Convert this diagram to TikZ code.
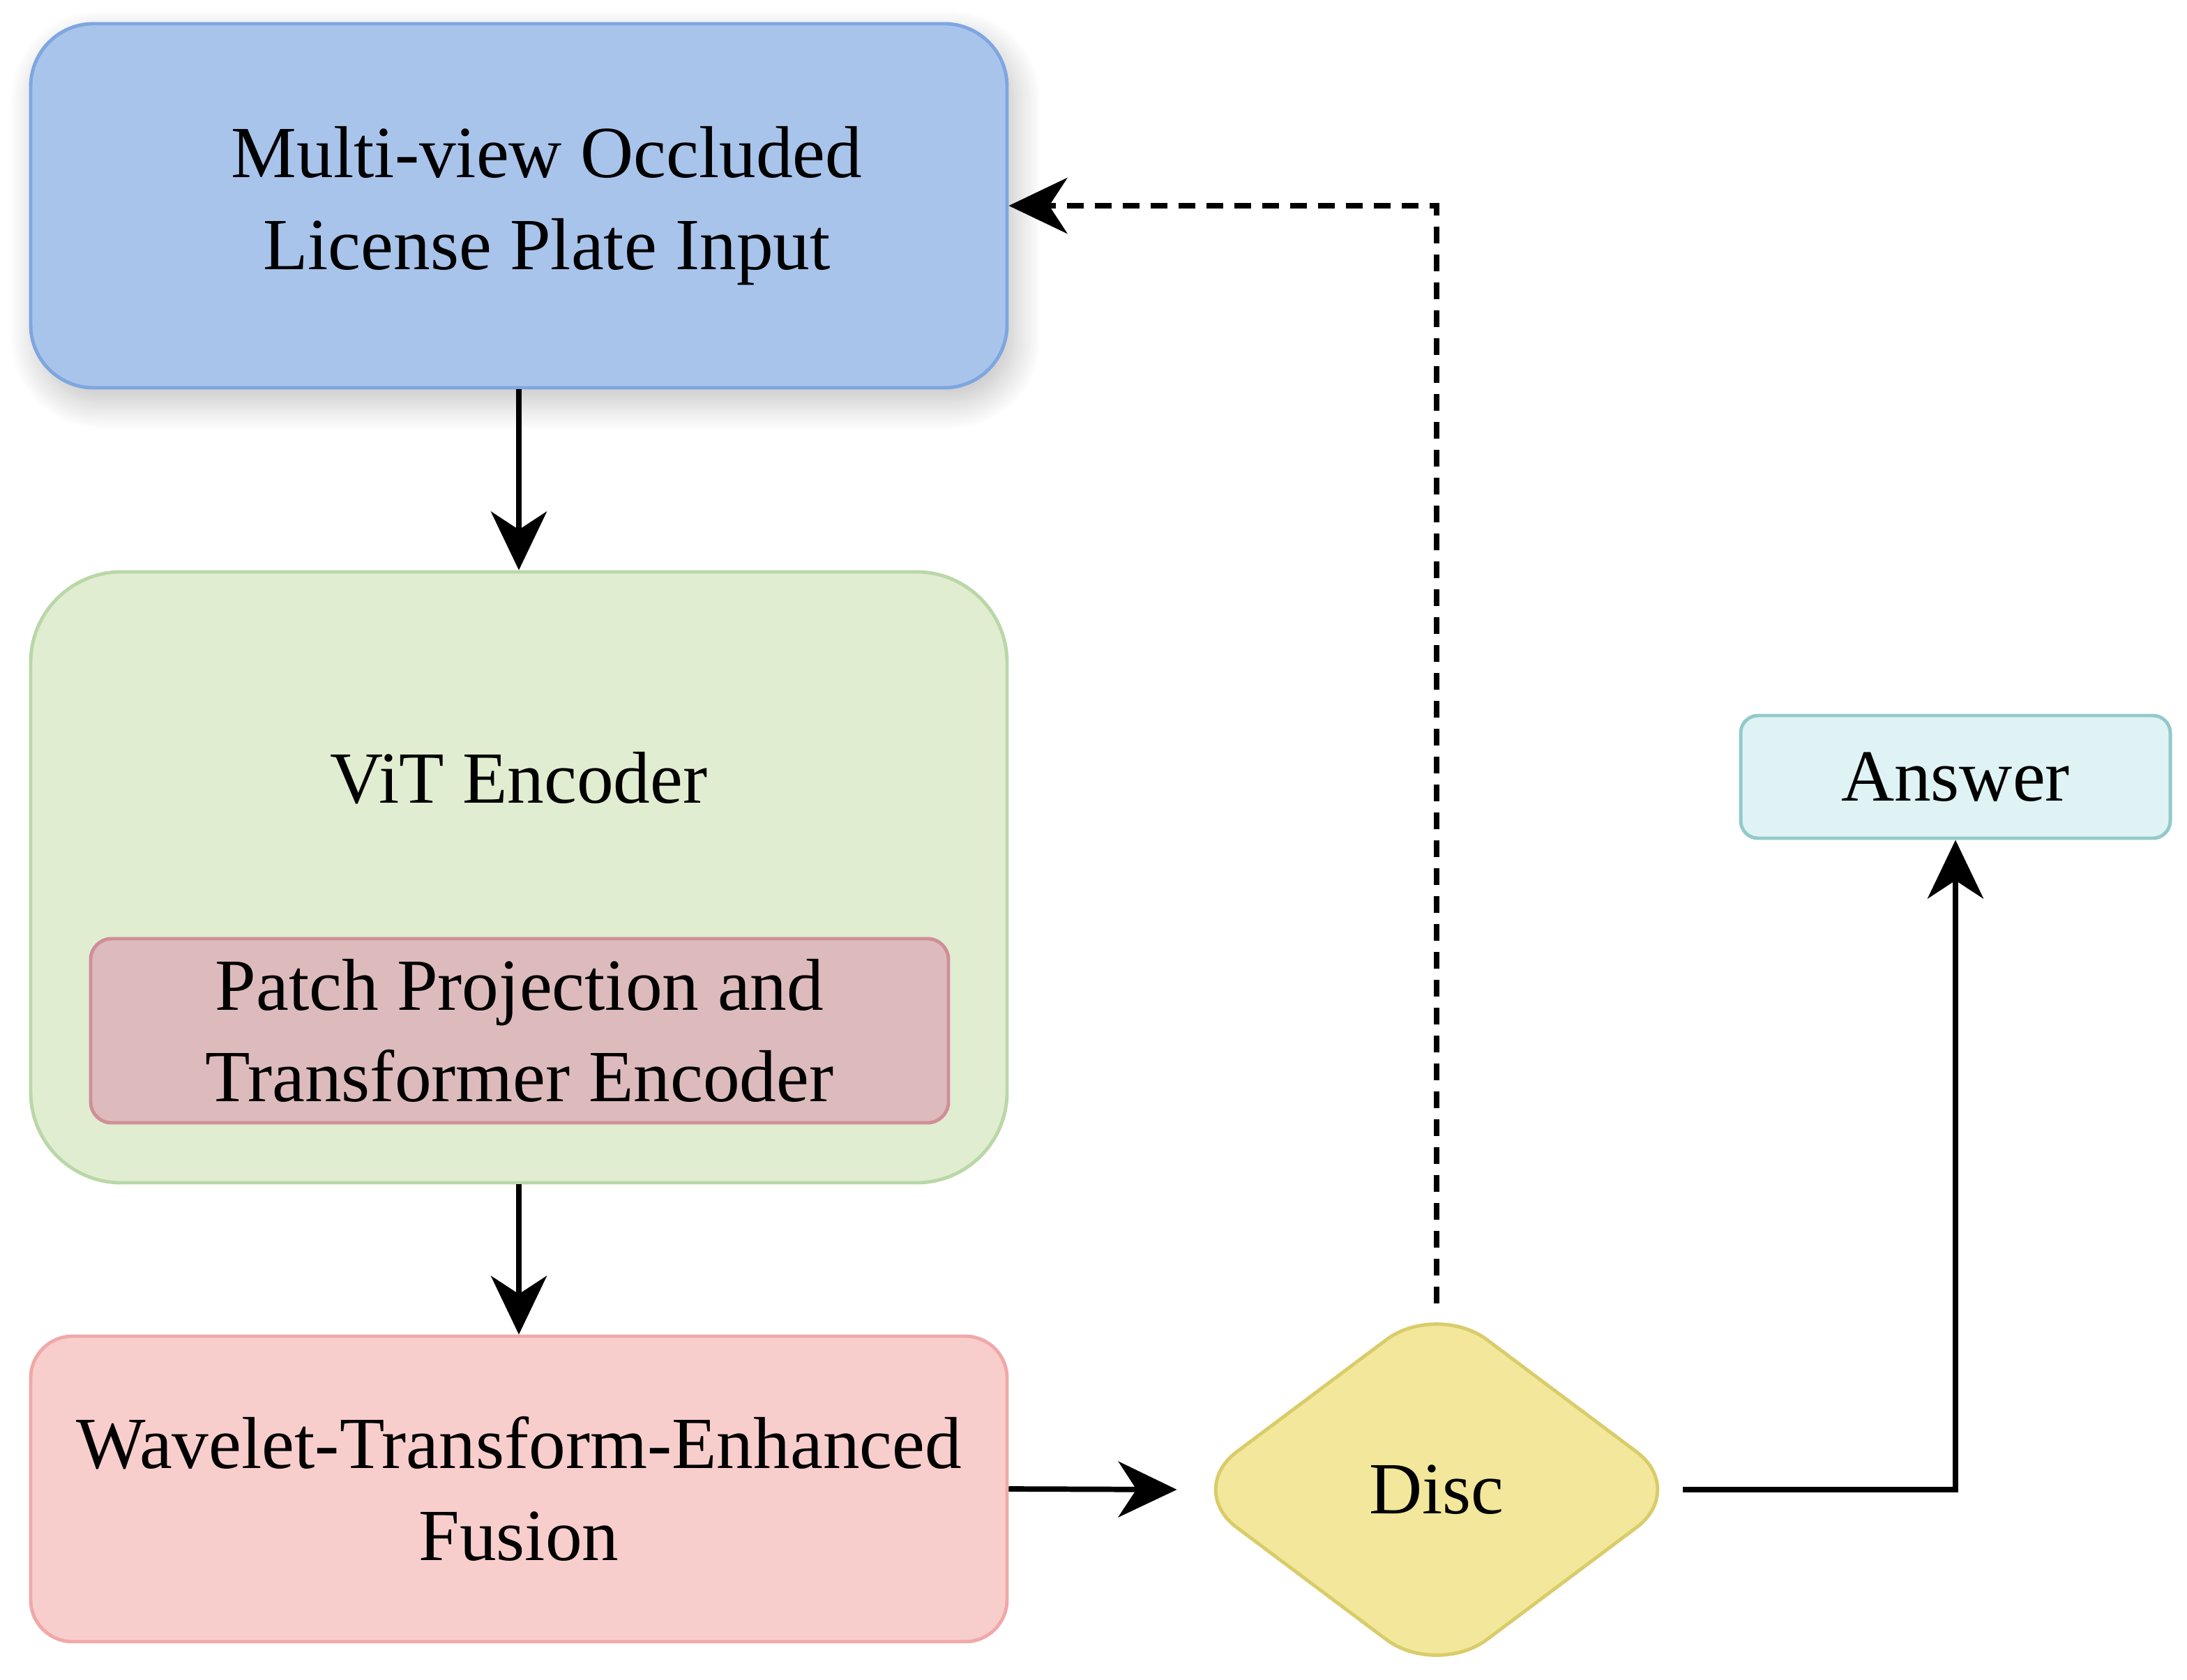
\documentclass[tikz,border=0pt]{standalone}
\usepackage{fontspec}
\setmainfont{Liberation Serif}
\usepackage{xcolor}
\usetikzlibrary{arrows.meta,positioning,shapes.geometric,shadows.blur}

\definecolor{inblue}{HTML}{A9C4EB}
\definecolor{inblueline}{HTML}{7EA6E0}
\definecolor{encgreen}{HTML}{E1EDD0}
\definecolor{encgreenline}{HTML}{B9D7A8}
\definecolor{patchred}{HTML}{DDBBBD}
\definecolor{patchredline}{HTML}{D08E98}
\definecolor{fusered}{HTML}{F8CECC}
\definecolor{fuseredline}{HTML}{F0A8A8}
\definecolor{discyellow}{HTML}{F2E79A}
\definecolor{discyellowline}{HTML}{D9CC6A}
\definecolor{anscyan}{HTML}{DFF3F4}
\definecolor{anscyanline}{HTML}{93C9CB}

\begin{document}
\begin{tikzpicture}[
  font=\fontsize{30pt}{37.5pt}\selectfont,
  block/.style={
    line width=1.4pt,
    align=center,
    inner sep=0pt
  },
  arr/.style={-{Stealth[length=8.4mm, width=8mm, inset=2.6mm]}, line width=2.2pt, draw=black},
  feed/.style={arr, dash pattern=on 2.4mm off 1.6mm}
]
\useasboundingbox (0,0) rectangle (31.36,-24.08);

\node[block, fill=inblue, draw=inblueline, rounded corners=9mm,
  minimum width=14cm, minimum height=5.22cm,
  blur shadow={shadow xshift=1mm, shadow yshift=-2mm, shadow blur radius=4mm,
    shadow blur steps=20, shadow opacity=25}] (input) at (7.44,-2.95) {};
\node[align=center] (inputlabel) at (7.84,-2.95) {Multi-view Occluded\\License Plate Input};

\node[block, fill=encgreen, draw=encgreenline, rounded corners=13mm,
  minimum width=14cm, minimum height=8.76cm] (vit) at (7.44,-12.58) {};
\node (vittitle) at (7.44,-11.16) {ViT Encoder};
\node[block, fill=patchred, draw=patchredline, rounded corners=3mm,
  minimum width=12.3cm, minimum height=2.64cm] (patch) at (7.45,-14.78)
  {Patch Projection and\\Transformer Encoder};

\node[block, fill=fusered, draw=fuseredline, rounded corners=6mm,
  minimum width=14cm, minimum height=4.38cm] (fusion) at (7.44,-21.35)
  {Wavelet-Transform-Enhanced\\Fusion};

\node[block, diamond, fill=discyellow, draw=discyellowline, rounded corners=9mm,
  minimum width=7.2cm, minimum height=5.4cm] (disc) at (20.6,-21.36) {Disc};

\node[block, fill=anscyan, draw=anscyanline, rounded corners=2.5mm,
  minimum width=6.16cm, minimum height=1.76cm] (answer) at (28.04,-11.14) {Answer};

\draw[arr] (input.south) -- (vit.north);
\draw[arr] (vit.south) -- (fusion.north);
\draw[arr, shorten >=1mm] (fusion.east) -- (disc.west);
\draw[arr] ([xshift=-1mm]disc.east) -| (answer.south);
\draw[feed] ([yshift=-0.5mm]disc.north) |- (input.east);

\end{tikzpicture}
\end{document}
